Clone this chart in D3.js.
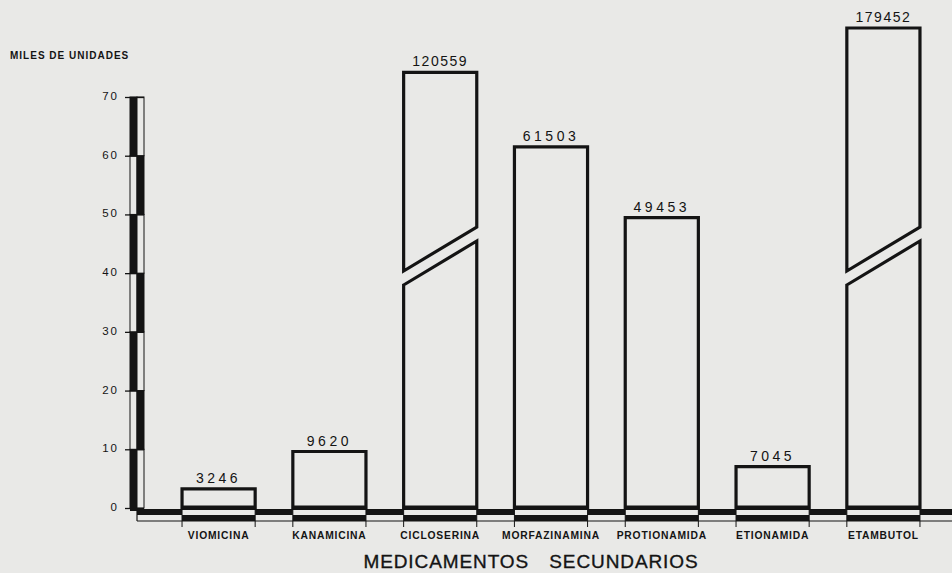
<!DOCTYPE html>
<html>
<head>
<meta charset="utf-8">
<script src="https://cdn.jsdelivr.net/npm/d3@7"></script>
<style>
  html, body { margin: 0; padding: 0; background: #e9e9e7; }
  svg { display: block; font-family: "Liberation Sans", Arial, sans-serif; }
</style>
</head>
<body>
<script>
// drugs and units (raw counts)
const categories = ['VIOMICINA', 'KANAMICINA', 'CICLOSERINA', 'MORFAZINAMINA', 'PROTIONAMIDA', 'ETIONAMIDA', 'ETAMBUTOL'];
const units = [3246, 9620, 120559, 61503, 49453, 7045, 179452];
const yTicks = [0, 10, 20, 30, 40, 50, 60, 70];

const W = 952, H = 573;
const ink = '#141414';
const paper = '#e9e9e7';

const svg = d3.select('body').append('svg').attr('width', W).attr('height', H);
svg.append('rect').attr('width', W).attr('height', H).attr('fill', paper);

const x = d3.scaleBand().domain(categories).range([163.2, 938.8]).paddingInner(0.34).paddingOuter(0.17);
const y = d3.scaleLinear().domain([0, 70]).range([508, 97]);
// compressed scale used above the break for bars that overflow 70
const yHigh = d3.scaleLinear().domain([100, 180]).range([87.8, 27.6]);
const brkL = 271, brkR = 227, brkGap = 14;

// vertical axis: two columns of alternating black / white blocks
const axL = 130, axM = 137, axR = 144;
const axisG = svg.append('g');
for (let i = 0; i < 7; i++) {
    const top = y((i + 1) * 10), bot = y(i * 10);
    axisG.append('rect').attr('x', axL).attr('y', top).attr('width', axM - axL).attr('height', bot - top)
        .attr('fill', i % 2 === 0 ? ink : paper).attr('stroke', ink).attr('stroke-width', 1);
    axisG.append('rect').attr('x', axM).attr('y', top).attr('width', axR - axM).attr('height', bot - top)
        .attr('fill', i % 2 === 0 ? paper : ink).attr('stroke', ink).attr('stroke-width', 1);
}
axisG.append('rect').attr('x', axL).attr('y', y(0)).attr('width', axM - axL).attr('height', 3).attr('fill', ink);

const yAxis = svg.append('g').attr('transform', `translate(${axR},0)`)
    .call(d3.axisLeft(y).tickValues(yTicks).tickSize(axR - 125).tickPadding(6).tickFormat(d3.format('d')));
yAxis.select('.domain').remove();
yAxis.selectAll('line').attr('stroke', ink).attr('stroke-width', 1.3);
yAxis.selectAll('text').attr('fill', ink).attr('dy', '0.22em').style('font-size', '11.5px').style('letter-spacing', '2px')
    .style('font-family', '"Liberation Sans", Arial, sans-serif');

svg.append('text').attr('x', 10).attr('y', 59).text('MILES DE UNIDADES')
    .attr('fill', ink).style('font-size', '10px').style('font-weight', 'bold').style('letter-spacing', '1px');

// baseline band
const bandTop = 509, bandMid = 515, bandBot = 521;
svg.append('rect').attr('x', axM).attr('y', bandTop).attr('width', W - axM).attr('height', bandMid - bandTop).attr('fill', ink);
svg.append('line').attr('x1', axM).attr('x2', W).attr('y1', bandBot).attr('y2', bandBot).attr('stroke', ink).attr('stroke-width', 1.2);
svg.append('line').attr('x1', axM).attr('x2', axM).attr('y1', bandTop).attr('y2', bandBot).attr('stroke', ink).attr('stroke-width', 1.2);

const data = categories.map((c, i) => ({ c, v: units[i] / 1000, n: units[i] }));

const bars = svg.append('g');
data.forEach(d => {
    const x0 = x(d.c), x1 = x(d.c) + x.bandwidth();
    // band under the bar: white on top, black below
    bars.append('rect').attr('x', x0).attr('y', bandTop + 1).attr('width', x1 - x0).attr('height', bandMid - bandTop - 1).attr('fill', paper);
    bars.append('rect').attr('x', x0).attr('y', bandMid).attr('width', x1 - x0).attr('height', bandBot - bandMid).attr('fill', ink);
    [x0, x1].forEach(xx => bars.append('line').attr('x1', xx).attr('x2', xx).attr('y1', bandTop).attr('y2', 527)
        .attr('stroke', ink).attr('stroke-width', 1));

    let top;
    if (d.v <= 70) {
        top = y(d.v);
        bars.append('path').attr('d', d3.line()([[x0, top], [x1, top], [x1, y(0)], [x0, y(0)]]) + 'Z')
            .attr('fill', 'none').attr('stroke', ink).attr('stroke-width', 3.2).attr('stroke-linejoin', 'miter');
    } else {
        top = yHigh(d.v);
        bars.append('path').attr('d', d3.line()([[x0, top], [x1, top], [x1, brkR], [x0, brkL]]) + 'Z')
            .attr('fill', 'none').attr('stroke', ink).attr('stroke-width', 3.2).attr('stroke-linejoin', 'miter');
        bars.append('path').attr('d', d3.line()([[x0, brkL + brkGap], [x1, brkR + brkGap], [x1, y(0)], [x0, y(0)]]) + 'Z')
            .attr('fill', 'none').attr('stroke', ink).attr('stroke-width', 3.2).attr('stroke-linejoin', 'miter');
    }
    bars.append('line').attr('x1', x0).attr('x2', x1).attr('y1', y(0) - 0.5).attr('y2', y(0) - 0.5)
        .attr('stroke', ink).attr('stroke-width', 4);

    bars.append('text').attr('x', (x0 + x1) / 2).attr('y', top - 6).attr('text-anchor', 'middle')
        .text(d.n).attr('fill', ink).style('font-size', '14px').style('letter-spacing', d.n > 99999 ? '1.5px' : '3.5px');
});

// category labels
const xAxis = svg.append('g').attr('transform', 'translate(0,531)')
    .call(d3.axisBottom(x).tickSize(0).tickPadding(0));
xAxis.select('.domain').remove();
xAxis.selectAll('text').attr('fill', ink).attr('dy', '0.75em')
    .style('font-size', '10.3px').style('font-weight', 'bold').style('letter-spacing', '0.8px')
    .style('font-family', '"Liberation Sans", Arial, sans-serif');

svg.append('text').attr('x', 531).attr('y', 568).attr('text-anchor', 'middle')
    .text('MEDICAMENTOS SECUNDARIOS').attr('fill', ink)
    .style('font-size', '19px').style('letter-spacing', '0.9px').style('word-spacing', '14px')
    .attr('stroke', ink).attr('stroke-width', 0.35);
</script>
</body>
</html>
